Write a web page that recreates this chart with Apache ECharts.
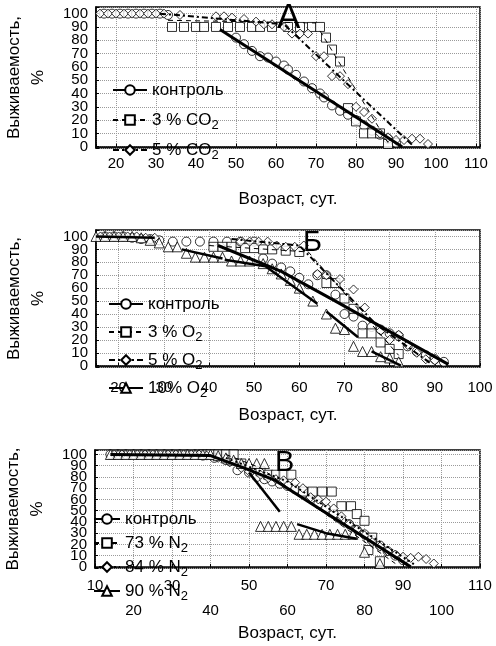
<!DOCTYPE html>
<html><head><meta charset="utf-8">
<script src="https://cdn.jsdelivr.net/npm/echarts@6/dist/echarts.min.js"></script>
<style>html,body{margin:0;padding:0;background:#fff}#c{width:496px;height:646px}</style>
</head><body><div id="c"></div>
<script>
// ---------- Panel А (CO2) ----------
const A_control = [[17,100],[19,100],[21,100],[23,100],[25,100],[27,100],[29,100],[31,100],[33,99],[50,82],[52,77],[54,72],[56,68],[58,67],[60,64],[62,61],[63,58],[65,54],[67,49],[69,44],[71,40],[72,37],[74,31],[76,27],[78,24],[80,20],[82,16],[84,12],[86,9],[88,6],[90,3]];
const A_co2_3 = [[34,90],[37,90],[40,90],[42,90],[45,90],[48,90],[51,90],[54,90],[56,90],[59,90],[63,90],[66,90],[69,90],[71,90],[72.5,82],[74,73],[76,64],[78,29],[80,19],[82,10],[84,10],[86,10],[88,2]];
const A_co2_5 = [[16,100],[18,100],[20,100],[22,100],[24,100],[26,100],[28,100],[30,100],[32,100],[36,99],[45,98],[47,98],[49,97],[52,96],[55,94],[57,92],[59,92],[62,90],[64,85],[66,85],[68,85],[70,68],[72,68],[74,53],[76,53],[78,47],[80,30],[82,26],[84,21],[86,10],[88,7],[90,5],[92,5],[94,6],[96,6],[98,2]];
const A_control_fit = [[[46,88],[91.5,0]]];
const A_co2_3_fit = [[[33,95],[70,93]],[[71,87],[88,3]]];
const A_co2_5_fit = [[[31,100],[62,92],[94.5,0]]];

// ---------- Panel Б (O2) ----------
const B_control = [[17,100],[19,100],[21,100],[23,99],[25,98],[27,98],[29,97],[32,96],[35,96],[38,96],[41,96],[44,96],[47,96],[50,96],[52,83],[54,79],[56,76],[58,73],[60,68],[62,63],[64,70],[66,70],[68,55],[70,40],[72,38],[74,31],[76,30],[78,28],[80,25],[82,23],[84,15],[86,11],[88,8],[90,5],[92,3]];
const B_o2_3 = [[41,92],[43,92],[45,92],[48,91],[50,91],[52,90],[54,90],[57,89],[60,88],[66,64],[68,64],[70,52],[72,44],[74,25],[76,25],[78,18],[80,13],[82,9]];
const B_o2_5 = [[16,100],[18,100],[20,100],[22,100],[24,100],[26,99],[28,99],[47,96],[49,96],[51,96],[53,96],[55,93],[57,92],[59,92],[61,93],[64,71],[66,70],[69,67],[72,59],[74.5,45],[78,27],[80,20],[82,24],[84,16],[86,10],[88,5],[90,4]];
const B_o2_10 = [[15,100],[17,100],[19,100],[21,100],[23,100],[25,99],[27,97],[29,95],[31,92],[33,92],[35,87],[37,84],[39,84],[41,84],[43,84],[45,81],[47,81],[49,81],[52,79],[54,75],[56,71],[58,66],[60,60],[63,50],[66,40],[68,29],[70,28],[72,15],[74,11],[76,11],[78,7],[80,6],[82,3]];
const B_control_fit = [[[42,93],[56,73],[68,50],[93,1]]];
const B_o2_3_fit = [[[40,93],[62,88],[82,8]]];
const B_o2_5_fit = [[[45,98],[60,93],[77,32],[89,2]]];
const B_o2_10_fit = [[[15,100],[28,99]],[[34,90],[43,83]],[[43.5,82],[52.5,77],[64,48]],[[66,42],[73,22]],[[76,11],[82.5,0]]];

// ---------- Panel В (N2) ----------
const V_control = [[14,100],[16,100],[18,100],[20,100],[22,100],[24,100],[26,100],[28,100],[30,100],[32,100],[34,100],[36,100],[38,99],[41,97],[44,95],[47,86],[50,84],[52,80],[54,78],[56,76],[58,74],[60,72],[62,69],[64,65],[66,61],[68,56],[70,52],[72,47],[74,42],[76,38],[78,33],[80,29],[82,24],[84,19],[86,14],[88,10],[90,6]];
const V_n73 = [[38,100],[40,100],[42,100],[44,100],[46,100],[48,92],[53,85],[55,82],[57,82],[59,82],[61,82],[64,67],[66.5,67],[69,67],[71.5,67],[74,54],[76.5,54],[78,47],[80,41],[82,26],[81,15],[84,5]];
const V_n84 = [[15,100],[17,100],[19,100],[21,100],[23,100],[25,100],[27,100],[29,100],[31,100],[33,100],[35,100],[37,100],[39,99],[42,97],[45,93],[48,88],[50,85],[53,82],[55,79],[57,78],[59,77],[62,75],[64,70],[66,62],[68,60],[70,58],[72,52],[74,45],[76,38],[78,33],[80,28],[82,22],[84,18],[86,14],[88,11],[90,9],[92,8],[94,9],[96,7],[98,3]];
const V_n90 = [[14,100],[16,100],[18,100],[20,100],[22,100],[24,100],[26,100],[28,100],[30,100],[32,100],[34,100],[36,100],[38,100],[40,100],[42,99],[44,97],[46,95],[48,92],[50,92],[52,92],[54,92],[53,36],[55,36],[57,36],[59,36],[61,36],[63,29],[65,29],[67,29],[69,29],[71,29],[73,29],[75,29],[77,29],[80,13],[84,3]];
const V_control_fit = [[[14,100],[40,99],[48,89],[56.5,77.5],[92,0]]];
const V_n73_fit = [[[44,100],[53,88],[88,3]]];
const V_n84_fit = [[[44,97],[60,76],[93,2]]];
const V_n90_fit = [[[50,84],[58,49]],[[62.5,38],[70,30],[78,25]]];

// legend names / panel letters / axis titles
const A_names = ['контроль','3 % CO2','5 % CO2'];
const B_names = ['контроль','3 % O2','5 % O2','10% O2'];
const V_names = ['контроль','73 % N2','84 % N2','90 % N2'];
const panelLetters = ['А','Б','В'];
const yTitle = 'Выживаемость,\n%';
const xTitle = 'Возраст, сут.';

const FONT = 'Liberation Sans, Arial, sans-serif';
const BLACK = '#000';

const styles = {
  control: {symbol:'circle', line:{color:BLACK,width:3,type:'solid'}},
  thin:    {symbol:'rect', line:{color:BLACK,width:1,type:[5,4]}},
  dashdot: {symbol:'diamond', line:{color:BLACK,width:2,type:[6,3,2,3]}},
  dotted:  {symbol:'diamond', line:{color:BLACK,width:2,type:[2,3]}},
  tri:     {symbol:'triangle', line:{color:BLACK,width:2.5,type:'solid'}}
};

const series = [];
function addFit(name, gi, segs, st) {
  segs.forEach(seg => series.push({
    type:'line', name, xAxisIndex:gi, yAxisIndex:gi, data:seg,
    symbol: st.symbol, symbolSize: 9, showSymbol:false,
    itemStyle:{color:'#fff', borderColor:BLACK, borderWidth:1},
    lineStyle: st.line, z:4, silent:true, animation:false
  }));
}
function addPts(name, gi, data, st) {
  series.push({
    type:'scatter', name: name + ' pts', xAxisIndex:gi, yAxisIndex:gi, data,
    symbol: st.symbol, symbolSize: st.symbol==='triangle'?10:9,
    itemStyle:{color:'#fff', borderColor:BLACK, borderWidth:1},
    z:3, silent:true, animation:false
  });
}
// fits first (legend icon source), then points
addFit(A_names[0],0,A_control_fit,styles.control);
addFit(A_names[1],0,A_co2_3_fit,styles.thin);
addFit(A_names[2],0,A_co2_5_fit,styles.dashdot);
addFit(B_names[1],1,B_o2_3_fit,styles.thin);
addFit(B_names[2],1,B_o2_5_fit,styles.dashdot);
addFit(B_names[3],1,B_o2_10_fit,styles.tri);
addFit(B_names[0],1,B_control_fit,styles.control);
addFit(V_names[1],2,V_n73_fit,styles.thin);
addFit(V_names[2],2,V_n84_fit,styles.dotted);
addFit(V_names[3],2,V_n90_fit,styles.tri);
addFit(V_names[0],2,V_control_fit,styles.control);

addPts('A control',0,A_control,styles.control);
addPts('A co2 3',0,A_co2_3,styles.thin);
addPts('A co2 5',0,A_co2_5,styles.dashdot);
addPts('B control',1,B_control,styles.control);
addPts('B o2 3',1,B_o2_3,styles.thin);
addPts('B o2 5',1,B_o2_5,styles.dashdot);
addPts('B o2 10',1,B_o2_10,styles.tri);
addPts('V control',2,V_control,styles.control);
addPts('V n73',2,V_n73,styles.thin);
addPts('V n84',2,V_n84,styles.dotted);
addPts('V n90',2,V_n90,styles.tri);

const grids = [
  {left:96, top:7, width:384, height:141},
  {left:96, top:230, width:384, height:137},
  {left:95, top:450, width:385, height:118}
].map(g => Object.assign(g, {show:true, borderColor:BLACK, borderWidth:1.5, backgroundColor:'transparent', containLabel:false, outerBoundsMode:'none'}));

const xCfg = [
  {min:15, max:111, splitNumber:10, margin:8, nameGap:43, alt:false},
  {min:15, max:100, splitNumber:10, margin:13, nameGap:40, alt:false},
  {min:10, max:110, interval:10, margin:5, nameGap:57, alt:true}
];
const yMax = [105, 105, 104];

const xAxis = xCfg.map((c,i) => ({
  type:'value', gridIndex:i, min:c.min, max:c.max,
  splitNumber:c.splitNumber, interval:c.interval,
  name:xTitle, nameLocation:'middle', nameGap:c.nameGap,
  nameTextStyle:{fontFamily:FONT, fontSize:17, color:BLACK},
  axisLine:{show:true, lineStyle:{color:BLACK,width:1.5}},
  axisTick:{show:true, inside:true, length:3, lineStyle:{color:BLACK}},
  splitLine:{show:true, lineStyle:{color:'#9a9a9a', type:'dotted', width:1}},
  axisLabel:{
    fontFamily:FONT, fontSize:15, color:BLACK, margin:c.margin, hideOverlap:false,
    lineHeight: c.alt ? 25 : 15,
    showMinLabel:true, showMaxLabel:true,
    formatter: v => {
      if (Math.abs(v % 10) > 1e-6) return '';
      if (!c.alt) return String(v);
      return ((v/10) % 2 === 1) ? String(v) : '\n' + v;
    }
  }
}));
const yAxis = yMax.map((m,i) => ({
  type:'value', gridIndex:i, min:-1, max:m, splitNumber:10,
  name:yTitle, nameLocation:'middle', nameRotate:90, nameGap:46,
  nameTextStyle:{fontFamily:FONT, fontSize:17, color:BLACK, lineHeight:24},
  axisLine:{show:true, lineStyle:{color:BLACK,width:1.5}},
  axisTick:{show:true, inside:true, length:3, lineStyle:{color:BLACK}},
  splitLine:{show:true, lineStyle:{color:'#9a9a9a', type:'dotted', width:1}},
  axisLabel:{fontFamily:FONT, fontSize:15, lineHeight:10, color:BLACK, margin:8, hideOverlap:false,
    showMinLabel:true, showMaxLabel:true,
    formatter: v => (Math.abs(v % 10) < 1e-6 && v >= 0 && v <= 100) ? String(v) : ''}
}));

function legend(names, left, top, gap, w) {
  return {
    data:names, orient:'vertical', left, top, itemGap:gap, itemWidth:w, itemHeight:12,
    padding:0, selectedMode:false, inactiveColor:'#000',
    formatter: n => n.replace(/2$/, '{s|2}'),
    textStyle:{fontFamily:FONT, fontSize:17, color:BLACK, lineHeight:24,
      rich:{s:{fontFamily:FONT, fontSize:13, color:BLACK, lineHeight:24, verticalAlign:'bottom'}}}
  };
}

const title = [
  {text:panelLetters[0], left:277, top:1},
  {text:panelLetters[1], left:303, top:228},
  {text:panelLetters[2], left:275, top:448}
].map((t,i) => Object.assign(t, {padding:0, textStyle:{fontFamily:FONT, fontWeight:'normal', color:BLACK, fontSize: i===0?35:29}}));

const chart = echarts.init(document.getElementById('c'), null, {renderer:'canvas'});
chart.setOption({
  animation:false,
  backgroundColor:'#fff',
  title,
  grid:grids,
  xAxis, yAxis,
  legend:[legend(A_names,112,78,6,34), legend(B_names,108,292,4,34), legend(V_names,93,507,0,26)],
  series
});
</script></body></html>
